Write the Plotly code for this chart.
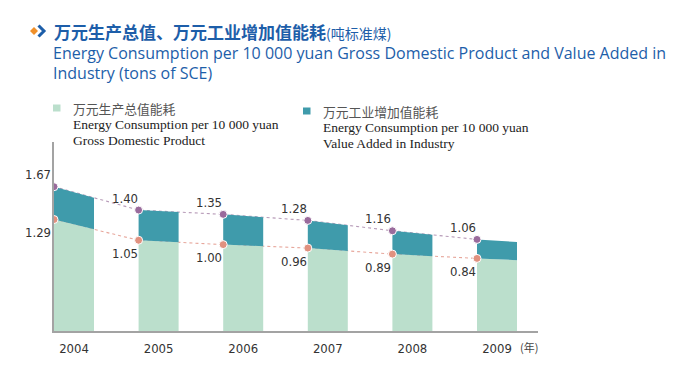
import plotly.graph_objects as go

# ---------------- data ----------------
years = [2004, 2005, 2006, 2007, 2008, 2009]
year_labels = ["2004", "2005", "2006", "2007", "2008", "2009"]
gdp_energy = [1.29, 1.05, 1.00, 0.96, 0.89, 0.84]        # per 10 000 yuan GDP
industry_energy = [1.67, 1.40, 1.35, 1.28, 1.16, 1.06]   # per 10 000 yuan value added in industry
gdp_tail = 0.82        # right-edge height of last bar
industry_tail = 1.03

# ---------------- style ----------------
GREEN = "#bbdfcc"
TEAL = "#3f9bab"
PURPLE = "#9a6b9c"
SALMON = "#e0917f"
AXIS = "#a3a3a3"
BLUE = "#1d5ea9"
NUM_FONT = "Liberation Sans Narrow, DejaVu Sans Condensed, sans-serif"

OFF = 8                      # page body margin
W, H = 700 - OFF, 368 - OFF
PL, PR, PT, PB = 54, 538, 142, 331   # plot area in reference pixels
step_px = 84.6
unit_px = 86.4
bw = 40 / step_px              # bar width in year units
plot_w = PR - PL
plot_h = PB - PT

def px(x):
    return (x - PL) / plot_w

def py(y):
    return (PB - y) / plot_h

fig = go.Figure()

x_left = [y - bw / 2 for y in years]
x_right = [y + bw / 2 for y in years]

# dotted connecting lines
fig.add_trace(go.Scatter(x=x_left, y=industry_energy, mode="lines",
                         line=dict(color="#b79bb8", width=1.1, dash="dot"),
                         hoverinfo="skip", showlegend=False))
fig.add_trace(go.Scatter(x=x_left, y=gdp_energy, mode="lines",
                         line=dict(color="#e7a79c", width=1.1, dash="dot"),
                         hoverinfo="skip", showlegend=False))

# slanted bars
for i in range(len(years)):
    if i < len(years) - 1:
        g_r = gdp_energy[i] + (gdp_energy[i + 1] - gdp_energy[i]) * bw
        t_r = industry_energy[i] + (industry_energy[i + 1] - industry_energy[i]) * bw
    else:
        g_r = gdp_tail
        t_r = industry_tail
    x0, x1 = x_left[i], x_right[i]
    fig.add_trace(go.Scatter(x=[x0, x0, x1, x1, x0], y=[0, gdp_energy[i], g_r, 0, 0],
                             fill="toself", fillcolor=GREEN, mode="lines",
                             line=dict(width=0, color=GREEN), hoverinfo="skip", showlegend=False))
    fig.add_trace(go.Scatter(x=[x0, x0, x1, x1, x0],
                             y=[gdp_energy[i], industry_energy[i], t_r, g_r, gdp_energy[i]],
                             fill="toself", fillcolor=TEAL, mode="lines",
                             line=dict(width=0, color=TEAL), hoverinfo="skip", showlegend=False))

# dots
fig.add_trace(go.Scatter(x=x_left, y=industry_energy, mode="markers",
                         marker=dict(color=PURPLE, size=8, line=dict(color="white", width=1)),
                         hoverinfo="skip", showlegend=False))
fig.add_trace(go.Scatter(x=x_left, y=gdp_energy, mode="markers",
                         marker=dict(color=SALMON, size=8, line=dict(color="white", width=1)),
                         hoverinfo="skip", showlegend=False))

ann = []
for i in range(len(years)):
    xs = -16 if i == 0 else -14
    ann.append(dict(x=x_left[i], y=industry_energy[i], xref="x", yref="y",
                    xanchor="center", yanchor="middle",
                    text=f"{industry_energy[i]:.2f}", showarrow=False,
                    xshift=xs, yshift=12,
                    font=dict(family=NUM_FONT, size=13, color="#333333")))
    ann.append(dict(x=x_left[i], y=gdp_energy[i], xref="x", yref="y",
                    xanchor="center", yanchor="middle",
                    text=f"{gdp_energy[i]:.2f}", showarrow=False,
                    xshift=xs, yshift=-13,
                    font=dict(family=NUM_FONT, size=13, color="#333333")))

# year unit
ann.append(dict(x=px(518), y=py(347), xref="paper", yref="paper", xanchor="left", yanchor="middle",
                text="(年)", showarrow=False,
                font=dict(family="Noto Sans CJK SC", size=11, color="#444444")))

# title
ann.append(dict(x=px(52), y=py(31), xref="paper", yref="paper", xanchor="left", yanchor="middle",
                text="<b>万元生产总值、万元工业增加值能耗</b><span style='font-size:14px'>(吨标准煤)</span>",
                showarrow=False, font=dict(family="Noto Sans CJK SC", size=17, color=BLUE)))
ann.append(dict(x=px(51), y=py(52.8), xref="paper", yref="paper", xanchor="left", yanchor="middle",
                text="Energy Consumption per 10 000 yuan Gross Domestic Product and Value Added in",
                showarrow=False, font=dict(family="Open Sans", size=16, color=BLUE)))
ann.append(dict(x=px(51), y=py(73), xref="paper", yref="paper", xanchor="left", yanchor="middle",
                text="Industry (tons of SCE)",
                showarrow=False, font=dict(family="Open Sans", size=16, color=BLUE)))

# legend texts
legend_items = [
    (71, (108.3, 125, 140.5), "万元生产总值能耗", "Energy Consumption per 10 000 yuan", "Gross Domestic Product"),
    (321, (111.3, 127.7, 143.3), "万元工业增加值能耗", "Energy Consumption per 10 000 yuan", "Value Added in Industry"),
]
for lx, (y1, y2, y3), zh, en1, en2 in legend_items:
    ann.append(dict(x=px(lx), y=py(y1), xref="paper", yref="paper", xanchor="left", yanchor="middle",
                    text=zh, showarrow=False,
                    font=dict(family="Noto Sans CJK SC", size=12.8, color="#555555")))
    ann.append(dict(x=px(lx), y=py(y2), xref="paper", yref="paper", xanchor="left", yanchor="middle",
                    text=en1, showarrow=False,
                    font=dict(family="Liberation Serif", size=13.5, color="#222222")))
    ann.append(dict(x=px(lx), y=py(y3), xref="paper", yref="paper", xanchor="left", yanchor="middle",
                    text=en2, showarrow=False,
                    font=dict(family="Liberation Serif", size=13.5, color="#222222")))

shapes = [
    # legend squares
    dict(type="rect", xref="paper", yref="paper", x0=px(53), x1=px(60.5), y0=py(111.5), y1=py(104.5),
         fillcolor=GREEN, line=dict(width=0)),
    dict(type="rect", xref="paper", yref="paper", x0=px(303), x1=px(310.5), y0=py(114.5), y1=py(107.5),
         fillcolor=TEAL, line=dict(width=0)),
    # title icon: orange diamond + blue chevron
    dict(type="path", xref="paper", yref="paper",
         path=f"M {px(30)} {py(31)} L {px(34)} {py(27)} L {px(38)} {py(31)} L {px(34)} {py(35)} Z",
         fillcolor="#f0902a", line=dict(width=0)),
    dict(type="path", xref="paper", yref="paper",
         path=f"M {px(38.5)} {py(25.5)} L {px(44)} {py(31)} L {px(38.5)} {py(36.5)}",
         line=dict(color=BLUE, width=3)),
]

fig.update_layout(
    width=W, height=H, autosize=False,
    margin=dict(l=PL - OFF, r=(700 - OFF) - (PR - OFF), t=PT - OFF, b=(368 - OFF) - (PB - OFF)),
    paper_bgcolor="white", plot_bgcolor="white",
    annotations=ann, shapes=shapes,
    xaxis=dict(range=[years[0] - bw / 2, years[0] - bw / 2 + plot_w / step_px],
               showline=True, linecolor=AXIS, linewidth=2,
               tickvals=years, ticktext=year_labels, ticks="",
               tickfont=dict(family=NUM_FONT, size=13, color="#333333"),
               showgrid=False, zeroline=False, fixedrange=True, ticklabelstandoff=4),
    yaxis=dict(range=[0, plot_h / unit_px], showline=True, linecolor=AXIS, linewidth=1.5,
               showticklabels=False, ticks="", showgrid=False, zeroline=False, fixedrange=True),
)

fig.write_html("out.html")
